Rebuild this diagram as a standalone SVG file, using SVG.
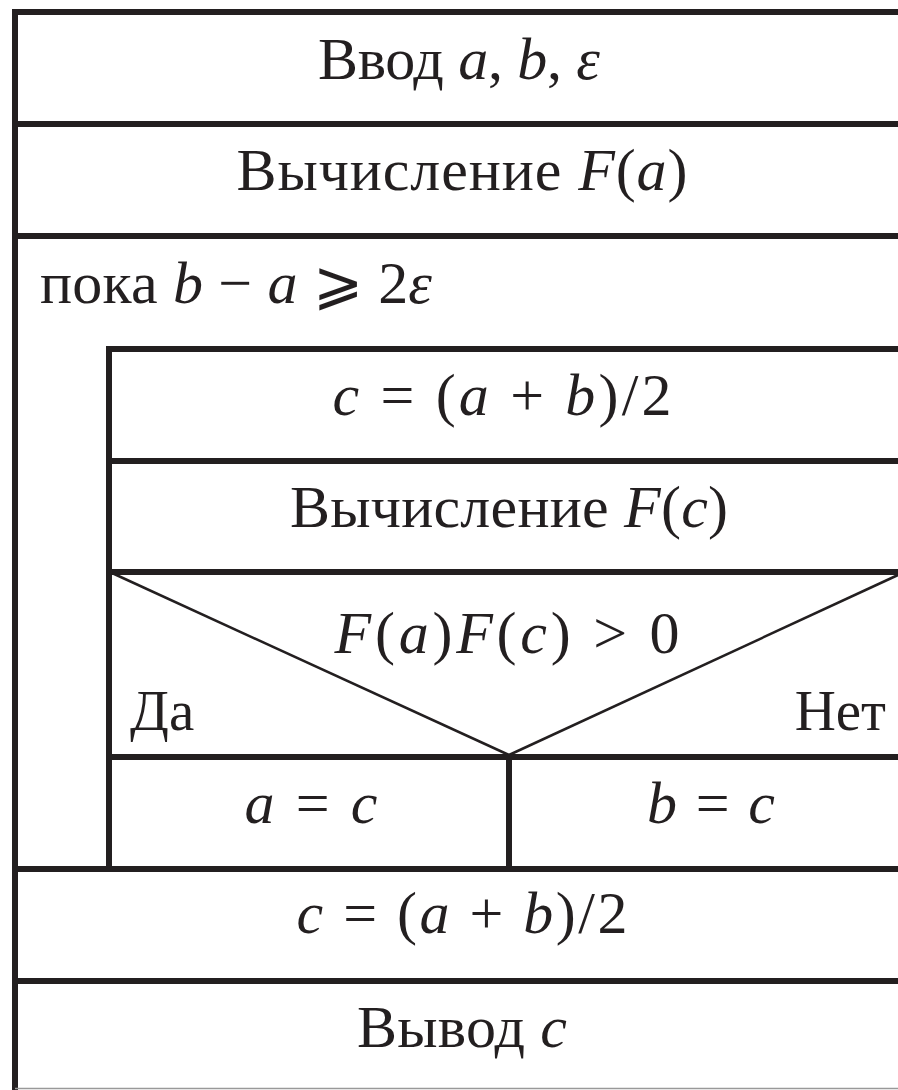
<svg xmlns="http://www.w3.org/2000/svg" width="898" height="1090" viewBox="0 0 898 1090">
<style>
.b{stroke:#231f20;stroke-width:6;fill:none;stroke-linecap:square}
.d{stroke:#231f20;stroke-width:2.5;fill:none}
.t{font-family:"Liberation Serif","DejaVu Serif",serif;font-size:60px;fill:#231f20;text-anchor:middle}
.s{font-size:57px}
.l{text-anchor:start}
.r{text-anchor:end}
.i{font-style:italic}
</style>
<rect width="898" height="1090" fill="#fff"/>
<g id="frame">
<line class="b" x1="15" y1="12" x2="15" y2="1087"/>
<line x1="15" y1="1088.5" x2="898" y2="1088.5" stroke="#999" stroke-width="1.5"/>
</g>
<g id="input">
<line class="b" x1="15" y1="12" x2="898" y2="12"/>
<text class="t" x="459" y="79" textLength="282">Ввод <tspan class="i">a</tspan>, <tspan class="i">b</tspan>, <tspan class="i">ε</tspan></text>
</g>
<g id="calcFa">
<line class="b" x1="15" y1="124" x2="898" y2="124"/>
<text class="t" x="462" y="190" textLength="451">Вычисление <tspan class="i">F</tspan>(<tspan class="i">a</tspan>)</text>
</g>
<g id="loop">
<line class="b" x1="15" y1="236" x2="898" y2="236"/>
<text class="t l" x="40" y="303" textLength="392">пока <tspan class="i">b</tspan> − <tspan class="i">a</tspan> ⩾ 2<tspan class="i">ε</tspan></text>
<line class="b" x1="109" y1="349" x2="109" y2="869"/>
</g>
<g id="midpoint1">
<line class="b" x1="109" y1="349" x2="898" y2="349"/>
<text class="t" x="502" y="415" textLength="339"><tspan class="i">c</tspan> = (<tspan class="i">a</tspan> + <tspan class="i">b</tspan>)/2</text>
</g>
<g id="calcFc">
<line class="b" x1="109" y1="461" x2="898" y2="461"/>
<text class="t" x="509" y="527" textLength="438">Вычисление <tspan class="i">F</tspan>(<tspan class="i">c</tspan>)</text>
</g>
<g id="condition">
<line class="b" x1="109" y1="572" x2="898" y2="572"/>
<line class="d" x1="112" y1="573" x2="509" y2="755"/>
<line class="d" x1="898" y1="575" x2="509" y2="755"/>
<text class="t" x="507" y="653" textLength="345"><tspan class="i">F</tspan>(<tspan class="i">a</tspan>)<tspan class="i">F</tspan>(<tspan class="i">c</tspan>) &gt; 0</text>
<text class="t l s" x="130" y="730">Да</text>
<text class="t r s" x="886" y="730">Нет</text>
</g>
<g id="assignA">
<line class="b" x1="109" y1="757" x2="898" y2="757"/>
<line class="b" x1="509" y1="757" x2="509" y2="869"/>
<text class="t" x="311" y="823" textLength="133"><tspan class="i">a</tspan> = <tspan class="i">c</tspan></text>
</g>
<g id="assignB">
<text class="t" x="711" y="823" textLength="128"><tspan class="i">b</tspan> = <tspan class="i">c</tspan></text>
</g>
<g id="midpoint2">
<line class="b" x1="15" y1="869" x2="898" y2="869"/>
<text class="t" x="462" y="933" textLength="331"><tspan class="i">c</tspan> = (<tspan class="i">a</tspan> + <tspan class="i">b</tspan>)/2</text>
</g>
<g id="output">
<line class="b" x1="15" y1="981" x2="898" y2="981"/>
<text class="t" x="462" y="1047" textLength="210">Вывод <tspan class="i">c</tspan></text>
</g>
</svg>
